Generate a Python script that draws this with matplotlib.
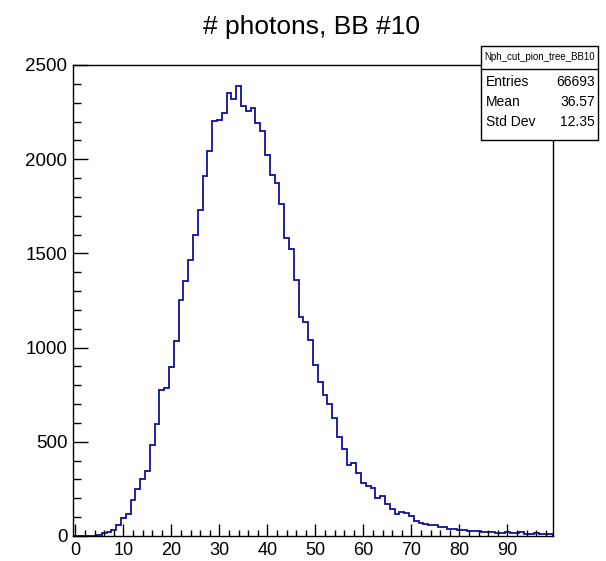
import numpy as np
import matplotlib
matplotlib.use("Agg")
import matplotlib.pyplot as plt
from matplotlib.ticker import MultipleLocator

plt.rcParams['font.family'] = ['Liberation Sans', 'DejaVu Sans']

# histogram contents, 100 bins from -0.5 to 99.5
bin_edges = np.arange(-0.5, 100.5, 1.0)
counts = [
    0, 0, 0, 1, 2, 4, 14, 21, 32, 58,
    98, 115, 189, 248, 305, 347, 481, 597, 773, 788,
    899, 1033, 1253, 1354, 1463, 1598, 1730, 1911, 2045, 2201,
    2210, 2245, 2351, 2320, 2387, 2282, 2256, 2272, 2194, 2150,
    2024, 1914, 1874, 1761, 1580, 1522, 1357, 1165, 1136, 1039,
    910, 818, 747, 701, 625, 528, 460, 375, 390, 333,
    281, 265, 253, 204, 212, 168, 145, 115, 129, 120,
    106, 80, 67, 64, 60, 57, 50, 49, 39, 38,
    32, 30, 28, 27, 25, 21, 23, 19, 16, 14,
    19, 16, 16, 19, 12, 9, 16, 9, 12, 9,
]

titulo = "# photons, BB #10"
nombre_hist = "Nph_cut_pion_tree_BB10"
stats_labels = ["Entries", "Mean", "Std Dev"]
stats_values = ["66693", "36.57", "12.35"]

W, H = 606, 561
fig = plt.figure(figsize=(W / 100, H / 100), dpi=100)

def px(x, y):
    return x / W, 1 - y / H

# frame in pixels: left 73, right 553, top 65, bottom 536
ax = fig.add_axes([73 / W, 1 - 536 / H, (553 - 73) / W, (536 - 65) / H])
ax.stairs(counts, bin_edges, color="#10109a", lw=1.3)
ax.set_xlim(-0.5, 99.5)
ax.set_ylim(0, 2500)

ax.xaxis.set_major_locator(MultipleLocator(10))
ax.xaxis.set_minor_locator(MultipleLocator(2))
ax.yaxis.set_major_locator(MultipleLocator(500))
ax.yaxis.set_minor_locator(MultipleLocator(100))
ax.tick_params(axis="x", which="major", direction="in", length=9, width=1, labelsize=13, pad=4)
ax.tick_params(axis="x", which="minor", direction="in", length=4.5, width=1)
ax.tick_params(axis="y", which="major", direction="in", length=10.5, width=1, labelsize=13.5, pad=4)
ax.tick_params(axis="y", which="minor", direction="in", length=5.5, width=1)
ax.set_xticks(range(0, 100, 10))
for s in ax.spines.values():
    s.set_linewidth(1.0)

# title
tx, ty = px(311, 34)
fig.text(tx, ty, titulo, ha="center", va="baseline", fontsize=19)

# stats box
bx0, by0 = px(481, 140)
bx1, by1 = px(598, 46)
caja = plt.Rectangle((bx0, by0), bx1 - bx0, by1 - by0, transform=fig.transFigure,
                     facecolor="white", edgecolor="black", lw=1.0, zorder=5)
fig.add_artist(caja)
sx0, sy = px(481, 69)
sx1, _ = px(598, 69)
fig.add_artist(plt.Line2D([sx0, sx1], [sy, sy], transform=fig.transFigure, color="black", lw=1.0, zorder=6))

cx, cy = px(539.5, 57)
fig.text(cx, cy, nombre_hist, ha="center", va="center", fontsize=7, zorder=7)
filas_y = [82, 102.5, 122.5]
for lab, val, yy in zip(stats_labels, stats_values, filas_y):
    lx, ly = px(486, yy)
    rx, _ = px(595, yy)
    fig.text(lx, ly, lab, ha="left", va="center", fontsize=10, zorder=7)
    fig.text(rx, ly, val, ha="right", va="center", fontsize=10, zorder=7)

fig.savefig("out.png", dpi=100)
